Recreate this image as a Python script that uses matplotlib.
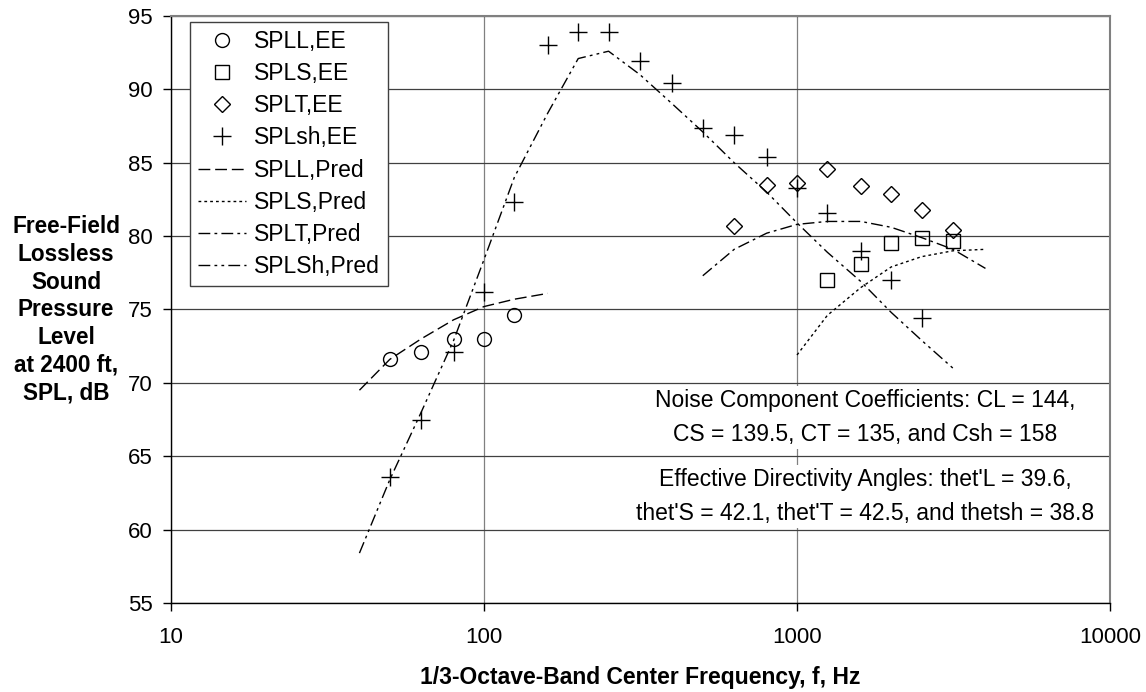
import matplotlib
matplotlib.use('Agg')
import matplotlib.pyplot as plt

plt.rcParams['font.family'] = ['Liberation Sans', 'DejaVu Sans']

# measured points (1/3-octave band centres)
f_l_ee = [50, 63, 80, 100, 125]
spl_l_ee = [71.6, 72.1, 73.0, 73.0, 74.6]

f_s_ee = [1250, 1600, 2000, 2500, 3150]
spl_s_ee = [77.0, 78.1, 79.5, 79.9, 79.7]

f_t_ee = [630, 800, 1000, 1250, 1600, 2000, 2500, 3150]
spl_t_ee = [80.7, 83.5, 83.6, 84.6, 83.4, 82.9, 81.8, 80.4]

f_sh_ee = [50, 63, 80, 100, 125, 160, 200, 250, 315, 400, 500, 630,
           800, 1000, 1250, 1600, 2000, 2500]
spl_sh_ee = [63.6, 67.5, 72.1, 76.2, 82.3, 93.0, 93.9, 93.9, 91.9, 90.4,
             87.4, 86.9, 85.4, 83.3, 81.6, 79.0, 77.0, 74.4]

# predictions
f_l_pr = [40, 50, 63, 80, 100, 125, 160]
spl_l_pr = [69.5, 71.6, 73.0, 74.3, 75.2, 75.7, 76.1]

f_s_pr = [1000, 1250, 1600, 2000, 2500, 3150, 4000]
spl_s_pr = [71.9, 74.6, 76.5, 77.9, 78.6, 79.0, 79.1]

f_t_pr = [500, 630, 800, 1000, 1250, 1600, 2000, 2500, 3150, 4000]
spl_t_pr = [77.3, 79.1, 80.2, 80.8, 81.0, 81.0, 80.6, 79.9, 79.1, 77.8]

f_sh_pr = [40, 50, 63, 80, 100, 125, 160, 200, 250, 315, 400, 500, 630,
           800, 1000, 1250, 1600, 2000, 2500, 3150]
spl_sh_pr = [58.4, 63.4, 68.0, 72.9, 78.4, 84.0, 88.4, 92.1, 92.6, 91.0,
             89.0, 87.1, 85.0, 83.0, 80.9, 78.9, 76.9, 74.8, 72.9, 71.0]

fig = plt.figure(figsize=(11.46, 6.92), dpi=100)
ax = fig.add_axes([0.1492, 0.1286, 0.8194, 0.8483])

mk = dict(linestyle='none', mfc='none', mec='black', mew=1.0)
ax.plot(f_l_ee, spl_l_ee, marker='o', ms=10, label='SPLL,EE', **mk)
ax.plot(f_s_ee, spl_s_ee, marker='s', ms=10, label='SPLS,EE', **mk)
ax.plot(f_t_ee, spl_t_ee, marker='D', ms=8.5, label='SPLT,EE', **mk)
ax.plot(f_sh_ee, spl_sh_ee, marker='+', ms=13, label='SPLsh,EE', **mk)

ax.plot(f_l_pr, spl_l_pr, color='black', lw=1.0, dashes=(8.5, 3.5),
        label='SPLL,Pred')
ax.plot(f_s_pr, spl_s_pr, color='black', lw=1.0, dashes=(2, 2.2),
        label='SPLS,Pred')
ax.plot(f_t_pr, spl_t_pr, color='black', lw=1.0, dashes=(8.5, 3, 2, 3),
        label='SPLT,Pred')
ax.plot(f_sh_pr, spl_sh_pr, color='black', lw=1.0,
        dashes=(8.5, 3, 2, 3, 2, 3), label='SPLSh,Pred')

ax.set_xscale('log')
ax.set_xlim(10, 10000)
ax.set_ylim(55, 95)
ax.set_yticks(range(55, 96, 5))
ax.set_xticks([10, 100, 1000, 10000])
ax.set_xticklabels(['10', '100', '1000', '10000'])
ax.minorticks_off()
ax.tick_params(axis='both', labelsize=16, direction='out', length=6,
               width=1)
ax.tick_params(axis='y', pad=7)
ax.tick_params(axis='x', pad=11)

ax.grid(True, axis='y', color='#404040', lw=0.9)
ax.grid(True, axis='x', color='#808080', lw=0.9)
ax.set_axisbelow(True)

for s in ['top', 'right']:
    ax.spines[s].set_color('#808080')
    ax.spines[s].set_linewidth(1.5)
for s in ['left', 'bottom']:
    ax.spines[s].set_color('black')
    ax.spines[s].set_linewidth(1.0)

ax.set_xlabel('1/3-Octave-Band Center Frequency, f, Hz', fontsize=16.5,
              fontweight='bold', labelpad=13)
fig.text(66 / 1146, 1 - 310 / 692,
         'Free-Field\nLossless\nSound\nPressure\nLevel\nat 2400 ft,\nSPL, dB',
         ha='center', va='center', fontsize=16.3, fontweight='bold',
         linespacing=1.26)

box = dict(facecolor='white', edgecolor='none', pad=2)
ax.text(0.739, 0.316,
        'Noise Component Coefficients: CL = 144,\n'
        'CS = 139.5, CT = 135, and Csh = 158',
        transform=ax.transAxes, ha='center', va='center', fontsize=16.5,
        linespacing=1.62, bbox=box)
ax.text(0.739, 0.182,
        "Effective Directivity Angles: thet'L = 39.6,\n"
        "thet'S = 42.1, thet'T = 42.5, and thetsh = 38.8",
        transform=ax.transAxes, ha='center', va='center', fontsize=16.5,
        linespacing=1.62, bbox=box)

leg = ax.legend(loc='upper left', bbox_to_anchor=(0.020, 0.990),
                borderaxespad=0, fontsize=16.5, handlelength=2.1,
                labelspacing=0.40, fancybox=False, framealpha=1,
                edgecolor='#404040', handletextpad=0.35, borderpad=0.35)
leg.get_frame().set_linewidth(1.0)

fig.savefig('out.png', dpi=100)
